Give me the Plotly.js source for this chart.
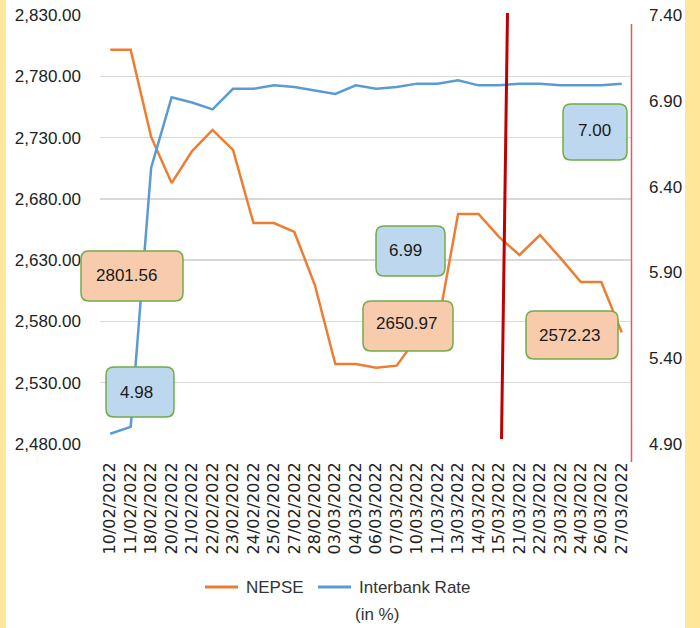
<!DOCTYPE html>
<html>
<head>
<meta charset="utf-8">
<script src="https://cdn.plot.ly/plotly-3.0.1.min.js"></script>
<style>
html,body{margin:0;padding:0;background:#fff;}
#chart{width:700px;height:628px;background:linear-gradient(to right,#ffe699 0px,#ffe699 6px,#ffffff 6px,#ffffff 685px,#ffe699 685px,#ffe699 700px);}
</style>
</head>
<body>
<div id="chart"></div>
<script>
const dates = ["10/02/2022","11/02/2022","18/02/2022","20/02/2022","21/02/2022","22/02/2022","23/02/2022","24/02/2022","25/02/2022","27/02/2022","28/02/2022","03/03/2022","04/03/2022","06/03/2022","07/03/2022","10/03/2022","11/03/2022","13/03/2022","14/03/2022","15/03/2022","21/03/2022","22/03/2022","23/03/2022","24/03/2022","26/03/2022","27/03/2022"];
const nepse = [2801.56,2801.56,2730.5,2692.9,2719.0,2736.2,2719.9,2660.3,2660.3,2653.0,2609.7,2545.3,2545.3,2542.3,2543.9,2567.0,2575.5,2667.7,2667.7,2649.0,2634.2,2650.5,2631.8,2612.2,2612.2,2571.0];
const interbank = [4.96,5.00,6.51,6.92,6.89,6.85,6.97,6.97,6.99,6.98,6.96,6.94,6.99,6.97,6.98,7.00,7.00,7.02,6.99,6.99,7.00,7.00,6.99,6.99,6.99,7.00];
const leftTicks = [2480,2530,2580,2630,2680,2730,2780,2830];
const rightTicks = [4.90,5.40,5.90,6.40,6.90,7.40];
const seriesNames = ["NEPSE","Interbank Rate","(in %)"];
const seriesColors = ["#ed7d31","#5b9bd5"];
const labels = [
  {text:"2801.56", kind:"nepse", box:[81,251,183,301], c:[126,275]},
  {text:"4.98", kind:"rate", box:[106,367,174,417], c:[136,392]},
  {text:"6.99", kind:"rate", box:[376,226,445,276], c:[405,250]},
  {text:"2650.97", kind:"nepse", box:[363,301,453,351], c:[406,324]},
  {text:"2572.23", kind:"nepse", box:[526,311,618,359], c:[569,335]},
  {text:"7.00", kind:"rate", box:[563,104,627,160], c:[594,130]}
];

const L=100, R=632, T=15, B=444;
const W=R-L, H=B-T;
const px = x => (x-L)/W;
const py = y => (B-y)/H;
function roundRect(x0,y0,x1,y1,r){
  const P=(x,y)=>px(x).toFixed(5)+","+py(y).toFixed(5);
  return "M"+P(x0+r,y0)+" L"+P(x1-r,y0)+" Q"+P(x1,y0)+" "+P(x1,y0+r)+
    " L"+P(x1,y1-r)+" Q"+P(x1,y1)+" "+P(x1-r,y1)+
    " L"+P(x0+r,y1)+" Q"+P(x0,y1)+" "+P(x0,y1-r)+
    " L"+P(x0,y0+r)+" Q"+P(x0,y0)+" "+P(x0+r,y0)+" Z";
}
const font = "Liberation Sans, Arial, sans-serif";
const shapes = [
  {type:"line",xref:"paper",yref:"paper",x0:px(507.5),y0:py(13),x1:px(501.5),y1:py(439),line:{color:"#c00000",width:3},layer:"above"},
  {type:"line",xref:"paper",yref:"paper",x0:px(631.5),y0:py(24),x1:px(631.5),y1:py(462),line:{color:"#e05a5a",width:1.5},layer:"above"},
  // legend samples
  {type:"line",xref:"paper",yref:"paper",x0:px(205),x1:px(238),y0:py(587),y1:py(587),line:{color:seriesColors[0],width:3}},
  {type:"line",xref:"paper",yref:"paper",x0:px(318),x1:px(351),y0:py(587),y1:py(587),line:{color:seriesColors[1],width:3}}
];
const annotations = [
  {xref:"paper",yref:"paper",x:px(244),y:py(587),text:seriesNames[0],showarrow:false,xanchor:"left",yanchor:"middle",font:{family:font,size:17,color:"#333"}},
  {xref:"paper",yref:"paper",x:px(357),y:py(587),text:seriesNames[1],showarrow:false,xanchor:"left",yanchor:"middle",font:{family:font,size:17,color:"#333"}},
  {xref:"paper",yref:"paper",x:px(353),y:py(614),text:seriesNames[2],showarrow:false,xanchor:"left",yanchor:"middle",font:{family:font,size:17,color:"#333"}}
];
labels.forEach(l=>{
  shapes.push({type:"path",xref:"paper",yref:"paper",path:roundRect(l.box[0],l.box[1],l.box[2],l.box[3],8),
    fillcolor: l.kind==="nepse" ? "#f8cbad" : "#bdd7ee", line:{color:"#70ad47",width:1.5}, layer:"above"});
  annotations.push({xref:"paper",yref:"paper",x:px(l.c[0]),y:py(l.c[1]),text:l.text,showarrow:false,
    xanchor:"center",yanchor:"middle",font:{family:font,size:17,color:"#1a1a1a"}});
});

const traces = [
  {x:dates,y:nepse,name:seriesNames[0],type:"scatter",mode:"lines",line:{color:seriesColors[0],width:2.5},yaxis:"y",showlegend:false},
  {x:dates,y:interbank,name:seriesNames[1]+" "+seriesNames[2],type:"scatter",mode:"lines",line:{color:seriesColors[1],width:2.5},yaxis:"y2",showlegend:false}
];
const layout = {
  width:700,height:628,
  margin:{l:L,r:700-R,t:T,b:628-B,autoexpand:false},
  paper_bgcolor:"rgba(0,0,0,0)",plot_bgcolor:"#ffffff",
  showlegend:false,
  xaxis:{type:"category",range:[-0.5,dates.length-0.5],tickangle:-90,tickfont:{family:"DejaVu Sans, sans-serif",size:16,color:"#222"},showgrid:false,zeroline:false,
    showline:false,ticks:"",ticklabelstandoff:14,fixedrange:true,automargin:false},
  yaxis:{range:[2480,2830],tickvals:leftTicks,ticktext:leftTicks.map(v=>v.toLocaleString("en-US",{minimumFractionDigits:2,maximumFractionDigits:2})),
    tickfont:{family:font,size:17,color:"#222"},gridcolor:"#d9d9d9",gridwidth:1.5,zeroline:false,showline:false,ticks:"",ticklabelstandoff:18,automargin:false},
  yaxis2:{range:[4.90,7.40],overlaying:"y",side:"right",tickvals:rightTicks,ticktext:rightTicks.map(v=>v.toFixed(2)),
    tickfont:{family:font,size:17,color:"#222"},showgrid:false,zeroline:false,showline:false,ticks:"",ticklabelstandoff:16,automargin:false},
  shapes:shapes,annotations:annotations
};
Plotly.newPlot("chart",traces,layout,{displayModeBar:false,staticPlot:true});
</script>
</body>
</html>
